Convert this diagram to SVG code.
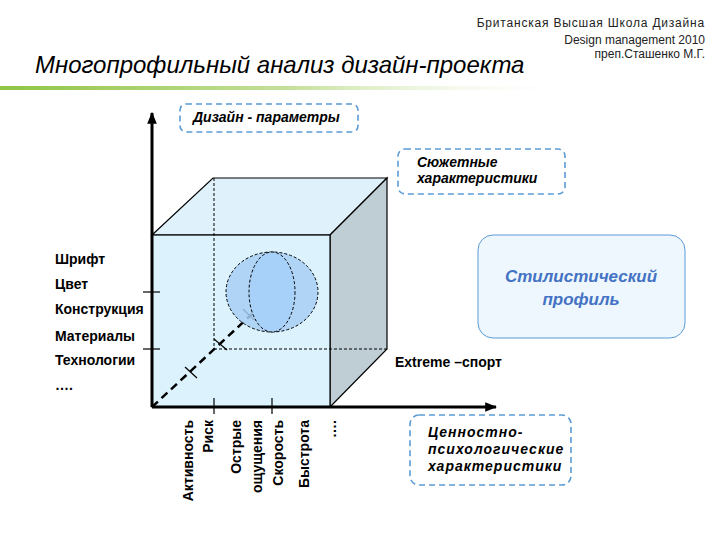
<svg xmlns="http://www.w3.org/2000/svg" width="728" height="546" viewBox="0 0 728 546">
<defs>
<linearGradient id="gl" x1="0" y1="0" x2="1" y2="0">
<stop offset="0" stop-color="#8fc444"/>
<stop offset="0.5" stop-color="#c5e09a"/>
<stop offset="1" stop-color="#ffffff" stop-opacity="0"/>
</linearGradient>
<marker id="arr" viewBox="0 0 10 10" refX="9" refY="5" markerWidth="4" markerHeight="4" orient="auto" markerUnits="strokeWidth">
<path d="M0,1 L10,5 L0,9 Z" fill="#000"/>
</marker>
<style>
.t{font-family:"Liberation Sans",Arial,sans-serif;fill:#000}
.b{font-weight:bold;font-size:14px}
.bi{font-weight:bold;font-style:italic;font-size:14px}
.hd{font-size:12px;fill:#222}
.db{fill:none;stroke:#5b9bd5;stroke-width:1.6;stroke-dasharray:6 4}
.edge{stroke:#000;stroke-width:1.2}
.hid{stroke:#000;stroke-width:1;stroke-dasharray:3 2;fill:none}
.sph{stroke:#000;stroke-width:1;stroke-dasharray:3 2}
.tick{stroke:#000;stroke-width:1.2}
</style>
</defs>
<rect width="728" height="546" fill="#fff"/>

<g id="header">
<text class="t hd" x="705" y="27" text-anchor="end" letter-spacing="0.8">Британская Высшая Школа Дизайна</text>
<text class="t hd" x="705" y="44" text-anchor="end">Design management 2010</text>
<text class="t hd" x="705" y="58" text-anchor="end">преп.Сташенко М.Г.</text>
<text class="t" x="35" y="73" font-size="24" font-style="italic">Многопрофильный анализ дизайн-проекта</text>
<rect x="0" y="86" width="580" height="4" fill="url(#gl)"/>
</g>

<g id="cube">
<polygon points="152,235 213,178 387,178 330,235" fill="#dff2fb" class="edge"/>
<polygon points="330,235 387,178 387,349 330,407" fill="#bfcdd4" class="edge"/>
<rect x="152" y="235" width="178" height="172" fill="#dcf2fc" class="edge"/>
<line x1="214" y1="178" x2="214" y2="349" class="hid"/>
<line x1="214" y1="349" x2="387" y2="349" class="hid"/>
</g>

<g id="connectors">
<line x1="152" y1="407" x2="252" y2="314" stroke="#000" stroke-width="2.5" stroke-dasharray="8 5"/>
<line x1="185" y1="367" x2="197" y2="378" class="tick"/>
<line x1="214" y1="339" x2="227" y2="350" class="tick"/>
<line x1="243" y1="309" x2="254" y2="320" class="tick"/>
<line x1="152" y1="407" x2="152" y2="113" stroke="#000" stroke-width="3" marker-end="url(#arr)"/>
<line x1="152" y1="407" x2="496" y2="407" stroke="#000" stroke-width="3" marker-end="url(#arr)"/>
<line x1="143" y1="292" x2="160" y2="292" class="tick"/>
<line x1="143" y1="349" x2="160" y2="349" class="tick"/>
<line x1="214" y1="398" x2="214" y2="414" class="tick"/>
<line x1="272" y1="398" x2="272" y2="414" class="tick"/>
</g>

<g id="sphere">
<ellipse cx="272" cy="292" rx="46" ry="40" fill="#a8cff3" fill-opacity="0.85" class="sph"/>
<ellipse cx="272" cy="292" rx="23" ry="40" fill="#a4d0fb" fill-opacity="0.7" class="sph"/>
</g>

<g id="y-labels">
<text class="t b" x="55" y="264">Шрифт</text>
<text class="t b" x="55" y="289">Цвет</text>
<text class="t b" x="55" y="314">Конструкция</text>
<text class="t b" x="55" y="341">Материалы</text>
<text class="t b" x="55" y="365">Технологии</text>
<text class="t b" x="55" y="390">….</text>
</g>

<g id="x-labels">
<text class="t b" text-anchor="end" transform="translate(193,420) rotate(-90)">Активность</text>
<text class="t b" text-anchor="end" transform="translate(213,420) rotate(-90)">Риск</text>
<text class="t b" text-anchor="end" transform="translate(241,420) rotate(-90)">Острые</text>
<text class="t b" text-anchor="end" transform="translate(262,420) rotate(-90)">ощущения</text>
<text class="t b" text-anchor="end" transform="translate(283,420) rotate(-90)">Скорость</text>
<text class="t b" text-anchor="end" transform="translate(309,420) rotate(-90)">Быстрота</text>
<text class="t b" text-anchor="end" transform="translate(336,420) rotate(-90)">….</text>
</g>

<g id="extreme">
<text class="t b" x="395" y="367">Extreme –спорт</text>
</g>

<g id="design-params">
<rect x="180" y="104" width="178" height="28" rx="6" class="db"/>
<text class="t bi" x="193" y="122">Дизайн - параметры</text>
</g>

<g id="plot">
<rect x="398" y="149" width="167" height="45" rx="7" class="db"/>
<text class="t bi" x="417" y="167">Сюжетные</text>
<text class="t bi" x="417" y="183">характеристики</text>
</g>

<g id="style-profile">
<rect x="478" y="235" width="207" height="103" rx="15" fill="#eef7fd" stroke="#5b9bd5" stroke-width="1"/>
<text class="t" x="581" y="282" text-anchor="middle" font-size="17" font-weight="bold" font-style="italic" style="fill:#4472c4">Стилистический</text>
<text class="t" x="581" y="305" text-anchor="middle" font-size="17" font-weight="bold" font-style="italic" style="fill:#4472c4">профиль</text>
</g>

<g id="value">
<rect x="410" y="415" width="161" height="70" rx="9" class="db"/>
<text class="t bi" x="428" y="437" letter-spacing="1">Ценностно-</text>
<text class="t bi" x="428" y="454" letter-spacing="1">психологические</text>
<text class="t bi" x="428" y="471" letter-spacing="1">характеристики</text>
</g>
</svg>
